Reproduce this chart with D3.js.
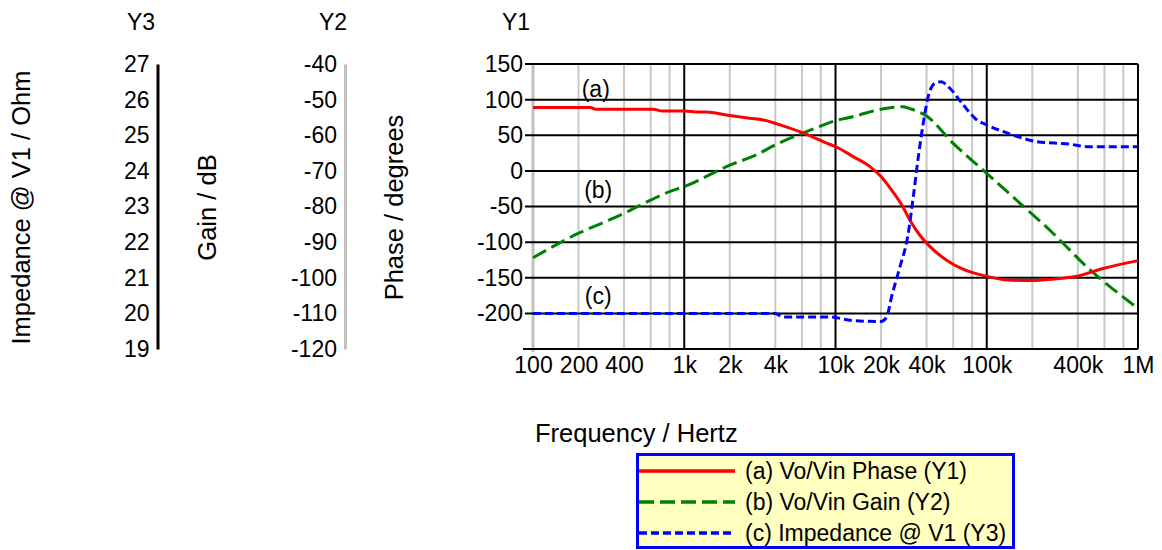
<!DOCTYPE html>
<html>
<head>
<meta charset="utf-8">
<script src="https://cdn.jsdelivr.net/npm/d3@7"></script>
<style>
  body { margin: 0; background: #fff; }
  svg { display: block; font-family: "Liberation Sans", Arial, sans-serif; }
</style>
</head>
<body>
<svg id="chart" width="1162" height="550"></svg>
<script>
// (a) phase, degrees (Y1)
var phaseFreq = [100, 240, 260, 620, 720, 1000, 1250, 1400, 1900, 2700, 3500, 4100, 5800, 7900, 9200, 10000,
  13100, 16900, 20000, 23500, 27800, 31000, 36000, 42000, 54000, 69600, 100000, 135000, 193000, 274000, 393000, 588000, 1000000];
var phaseDeg = [89, 89, 86.5, 86.5, 84, 84, 82.5, 82.5, 78.5, 74, 70.5, 66, 55, 43, 37, 34,
  20, 6, -8, -27, -50, -69, -90, -106, -125, -138, -148, -153, -154, -152, -148, -137, -126];

// (b) gain, dB (Y2)
var gainFreq = [100, 136, 200, 300, 400, 600, 800, 1000, 2000, 3000, 4000, 6000, 8000, 10000, 13000,
  20000, 27800, 32000, 40000, 60000, 100000, 166000, 274000, 458000, 1000000];
var gainDb = [-94.4, -91.2, -87.5, -84.3, -81.9, -78.2, -75.8, -74.4, -68.4, -65.5, -62.7, -59.5, -57.4, -55.9, -54.8,
  -52.7, -52, -52.7, -54.6, -62.3, -70.7, -79.1, -87.5, -96.9, -108.6];

// (c) impedance, ohm (Y3)
var impFreq = [100, 4000, 4500, 9000, 13000, 20000, 21800, 23500, 26700, 30000, 32700, 35300, 38000, 41000,
  45500, 50000, 57000, 70000, 86000, 100000, 129000, 166000, 214000, 355000, 458000, 1000000];
var impOhm = [20, 20, 19.9, 19.9, 19.8, 19.77, 19.9, 20.47, 21.31, 22.15, 23.28, 24.4, 25.33, 26.08,
  26.46, 26.5, 26.32, 25.85, 25.43, 25.29, 25.1, 24.94, 24.82, 24.75, 24.68, 24.68];

var xTicks = [100, 200, 400, 1000, 2000, 4000, 10000, 20000, 40000, 100000, 400000, 1000000];
var xTickLabels = ["100", "200", "400", "1k", "2k", "4k", "10k", "20k", "40k", "100k", "400k", "1M"];
var y1Ticks = [150, 100, 50, 0, -50, -100, -150, -200];
var y2Ticks = [-40, -50, -60, -70, -80, -90, -100, -110, -120];
var y3Ticks = [27, 26, 25, 24, 23, 22, 21, 20, 19];

var seriesNames = ["(a) Vo/Vin Phase (Y1)", "(b) Vo/Vin Gain (Y2)", "(c) Impedance @ V1 (Y3)"];
var seriesTags = ["(a)", "(b)", "(c)"];
var tagFreq = [260, 270, 270];
var tagY1 = [103, -38, -187];

var svg = d3.select("#chart");
var pLeft = 533, pRight = 1138, pTop = 64, pBottom = 349;

var x = d3.scaleLog().domain([100, 1e6]).range([pLeft, pRight]);
var y1 = d3.scaleLinear().domain([-250, 150]).range([pBottom, pTop]);
var y2 = d3.scaleLinear().domain([-120, -40]).range([pBottom, pTop]);
var y3 = d3.scaleLinear().domain([19, 27]).range([pBottom, pTop]);

// minor vertical grid at 2,4,6,8 per decade
var minor = [];
[100, 1000, 10000, 100000].forEach(function (d) {
  [2, 4, 6, 8].forEach(function (m) { minor.push(d * m); });
});
svg.append("g").selectAll("line").data(minor).enter().append("line")
  .attr("x1", d => x(d)).attr("x2", d => x(d))
  .attr("y1", pTop).attr("y2", pBottom)
  .attr("stroke", "#c8c8c8").attr("stroke-width", 2);

// left edge (100 Hz) is grey and thick
svg.append("line")
  .attr("x1", x(100)).attr("x2", x(100))
  .attr("y1", pTop).attr("y2", pBottom + 3)
  .attr("stroke", "#c0c0c0").attr("stroke-width", 3);

// decade lines
svg.append("g").selectAll("line").data([1000, 10000, 100000, 1000000]).enter().append("line")
  .attr("x1", d => x(d)).attr("x2", d => x(d))
  .attr("y1", pTop).attr("y2", pBottom)
  .attr("stroke", "#000").attr("stroke-width", 2);

// horizontal grid + Y1 ticks
svg.append("g").selectAll("line").data(y1Ticks.concat([-250])).enter().append("line")
  .attr("x1", d => d == -250 ? pLeft - 10 : pLeft - 8).attr("x2", pRight)
  .attr("y1", d => y1(d)).attr("y2", d => y1(d))
  .attr("stroke", "#000").attr("stroke-width", 2);

var fs = 23;
var plain = d => String(d);

// Y1 axis labels
var ax1 = svg.append("g").attr("transform", "translate(" + (pLeft - 10) + ",0)")
  .call(d3.axisLeft(y1).tickValues(y1Ticks).tickSize(0).tickPadding(0).tickFormat(plain));
ax1.select(".domain").remove();
ax1.selectAll("text").attr("font-size", fs).attr("font-family", null).attr("fill", "#000");

// Y2 axis (grey line)
var ax2 = svg.append("g").attr("transform", "translate(345,0)")
  .call(d3.axisLeft(y2).tickValues(y2Ticks).tickSize(0).tickPadding(8).tickFormat(plain));
ax2.select(".domain").attr("stroke", "#c0c0c0").attr("stroke-width", 3);
ax2.selectAll("text").attr("font-size", fs).attr("font-family", null).attr("fill", "#000");

// Y3 axis (black line)
var ax3 = svg.append("g").attr("transform", "translate(157.5,0)")
  .call(d3.axisLeft(y3).tickValues(y3Ticks).tickSize(0).tickPadding(8).tickFormat(plain));
ax3.select(".domain").attr("stroke", "#000").attr("stroke-width", 3);
ax3.selectAll("text").attr("font-size", fs).attr("font-family", null).attr("fill", "#000");

// X axis labels
var axX = svg.append("g").attr("transform", "translate(0," + pBottom + ")")
  .call(d3.axisBottom(x).tickValues(xTicks).tickSize(0).tickPadding(8)
    .tickFormat((d, i) => xTickLabels[i]));
axX.select(".domain").remove();
axX.selectAll("text").attr("font-size", fs).attr("font-family", null).attr("fill", "#000");

// axis headers
svg.append("g").selectAll("text").data([["Y3", 141], ["Y2", 333], ["Y1", 516]]).enter().append("text")
  .attr("x", d => d[1]).attr("y", 30).attr("text-anchor", "middle")
  .attr("font-size", fs).text(d => d[0]);

// rotated titles
svg.append("g").selectAll("text")
  .data([["Impedance @ V1 / Ohm", 30], ["Gain / dB", 216], ["Phase / degrees", 403]]).enter().append("text")
  .attr("transform", d => "translate(" + d[1] + "," + ((pTop + pBottom) / 2 + 1) + ") rotate(-90)")
  .attr("text-anchor", "middle").attr("font-size", 25.5).text(d => d[0]);

svg.append("text").attr("x", 535).attr("y", 442).attr("font-size", 25.5).text("Frequency / Hertz");

// curves
var line1 = d3.line().x((d, i) => x(phaseFreq[i])).y(d => y1(d)).curve(d3.curveMonotoneX);
var line2 = d3.line().x((d, i) => x(gainFreq[i])).y(d => y2(d)).curve(d3.curveMonotoneX);
var line3 = d3.line().x((d, i) => x(impFreq[i])).y(d => y3(d)).curve(d3.curveMonotoneX);

var styles = [
  { color: "#ff0000", dash: null },
  { color: "#008000", dash: "15,6" },
  { color: "#0000ff", dash: "8,4" }
];

svg.append("path").attr("d", line2(gainDb)).attr("fill", "none")
  .attr("stroke", styles[1].color).attr("stroke-width", 3).attr("stroke-dasharray", styles[1].dash);
svg.append("path").attr("d", line1(phaseDeg)).attr("fill", "none")
  .attr("stroke", styles[0].color).attr("stroke-width", 3);
svg.append("path").attr("d", line3(impOhm)).attr("fill", "none")
  .attr("stroke", styles[2].color).attr("stroke-width", 3).attr("stroke-dasharray", styles[2].dash);

// curve tags
svg.append("g").selectAll("text").data(seriesTags).enter().append("text")
  .attr("x", (d, i) => x(tagFreq[i])).attr("y", (d, i) => y1(tagY1[i]))
  .attr("text-anchor", "middle").attr("font-size", fs).text(d => d);

// legend
var lg = svg.append("g");
lg.append("rect").attr("x", 637.5).attr("y", 454.5).attr("width", 376).attr("height", 93)
  .attr("fill", "#ffffc0").attr("stroke", "#0000ff").attr("stroke-width", 3);
var rows = lg.selectAll("g.row").data(seriesNames).enter().append("g")
  .attr("transform", (d, i) => "translate(0," + (471 + i * 31) + ")");
rows.append("line").attr("x1", 639).attr("x2", 735).attr("y1", 0).attr("y2", 0)
  .attr("stroke", (d, i) => styles[i].color).attr("stroke-width", 3.5)
  .attr("stroke-dasharray", (d, i) => styles[i].dash);
rows.append("text").attr("x", 745).attr("y", 8).attr("font-size", fs).text(d => d);
</script>
</body>
</html>
